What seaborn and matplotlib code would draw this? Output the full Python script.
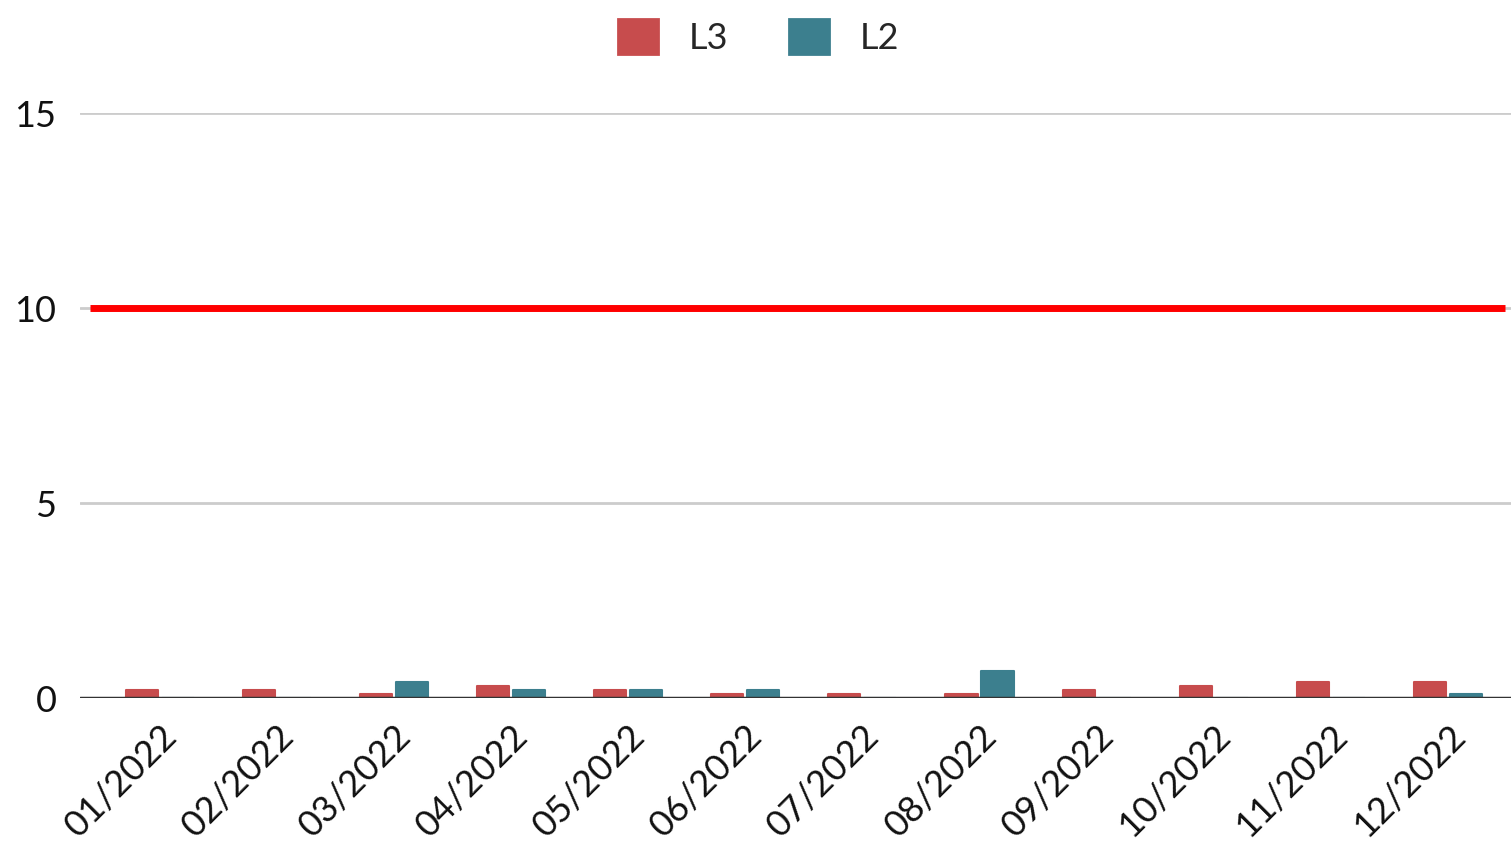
import matplotlib
matplotlib.use("Agg")
import matplotlib.pyplot as plt
import seaborn as sns
import pandas as pd

months = ["01/2022", "02/2022", "03/2022", "04/2022", "05/2022", "06/2022",
          "07/2022", "08/2022", "09/2022", "10/2022", "11/2022", "12/2022"]
l3_values = [0.2, 0.2, 0.1, 0.3, 0.2, 0.1, 0.1, 0.1, 0.2, 0.3, 0.4, 0.4]
l2_values = [0.0, 0.0, 0.4, 0.2, 0.2, 0.2, 0.0, 0.7, 0.0, 0.0, 0.0, 0.1]
series = ["L3", "L2"]
target = 10
y_ticks = [0, 5, 10, 15]

colors = {"L3": "#c74c4d", "L2": "#3c7f8e"}

df = pd.DataFrame({
    "month": months * 2,
    "series": [series[0]] * len(months) + [series[1]] * len(months),
    "value": l3_values + l2_values,
})

sns.set_theme(style="white")
plt.rcParams["font.family"] = ["Lato", "DejaVu Sans"]

fig = plt.figure(figsize=(15.11, 8.47), dpi=100)
ax = fig.add_axes([80 / 1511, 149 / 847, 1431 / 1511, 585 / 847])

sns.barplot(data=df, x="month", y="value", hue="series", hue_order=series,
            palette=colors, width=0.615, gap=0.11, ax=ax, legend=False,
            saturation=1)
for p in ax.patches:
    p.set_edgecolor(p.get_facecolor())
    p.set_linewidth(1.5)
    p.set_joinstyle("round")

ax.set_xlim(-0.683, 11.54)
ax.set_ylim(0, 15)
ax.set_yticks(y_ticks)
ax.set_yticklabels([str(t) for t in y_ticks], fontsize=26, color="#111111")
ax.tick_params(axis="y", length=0, pad=17)
ax.tick_params(axis="x", length=0, pad=15)
for lbl in ax.get_xticklabels():
    lbl.set_rotation(45)
    lbl.set_ha("right")
    lbl.set_rotation_mode("anchor")
    lbl.set_fontsize(26)
    lbl.set_color("#111111")
ax.set_xlabel("")
ax.set_ylabel("")

ax.yaxis.grid(True, color="#cccccc", linewidth=2)
ax.set_axisbelow(True)
for s in ax.spines.values():
    s.set_visible(False)
ax.axhline(0, color="#333333", linewidth=2.5, zorder=5)

# target threshold
ax.axhline(target, xmin=10 / 1431, xmax=1425 / 1431, color="#ff0000",
           linewidth=5, zorder=6, solid_capstyle="butt")

handles = [plt.Rectangle((0, 0), 1, 1, facecolor=colors[s], edgecolor=colors[s],
                         joinstyle="round", linewidth=2) for s in series]
fig.legend(handles, series, loc="center", bbox_to_anchor=(0.502, 0.956),
           ncol=2, frameon=False, fontsize=26, handlelength=1.1,
           handleheight=1.1, handletextpad=0.85, columnspacing=1.7)

fig.savefig("out.png", dpi=100, facecolor="white")
